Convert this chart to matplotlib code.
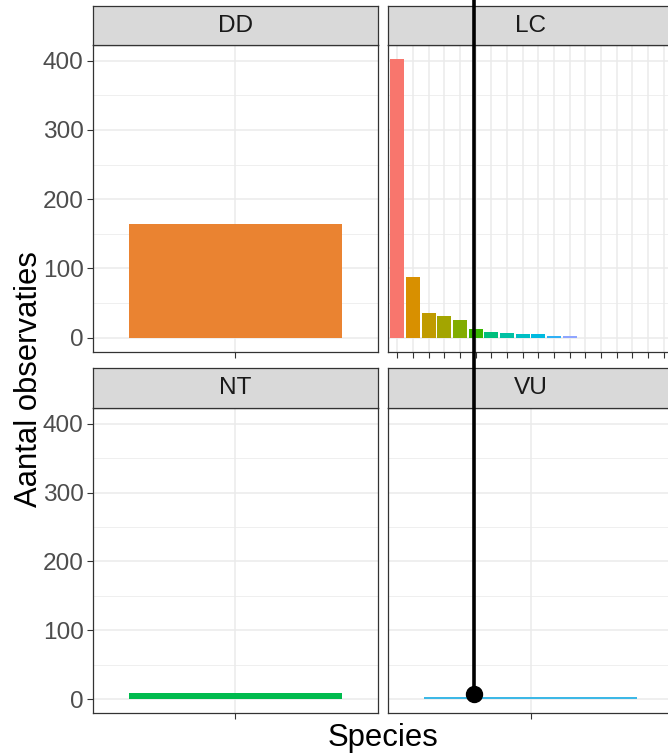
import matplotlib
matplotlib.use("Agg")
import matplotlib.pyplot as plt
from matplotlib.lines import Line2D
from matplotlib.ticker import MultipleLocator

plt.rcParams["font.family"] = ["Liberation Sans", "DejaVu Sans"]

# Observations per species, split by Red List status
status_labels = ["DD", "LC", "NT", "VU"]
dd_counts = [164]
lc_counts = [402, 87, 36, 32, 25, 13, 9, 7, 5, 5, 3, 3, 0, 0, 0, 0, 0, 0]
nt_counts = [10]
vu_counts = [3]

dd_colors = ["#EA8331"]
lc_colors = ["#F8766D", "#D89000", "#C09B00", "#A3A500", "#82AD00", "#39B600",
             "#00BF7D", "#00C1A3", "#00BFC4", "#00BAE0", "#2FB0F5", "#8FA5FF",
             "#C77CFF", "#E76BF3", "#FA62DB", "#FF62BC", "#FF6C91", "#F8766D"]
nt_colors = ["#00BB4E"]
vu_colors = ["#3DB8E6"]

y_title = "Aantal observaties"
x_title = "Species"

W, H = 668, 756
fig = plt.figure(figsize=(W / 100, H / 100), dpi=100)


def px_rect(x0, y0, x1, y1):
    return [x0 / W, 1 - y1 / H, (x1 - x0) / W, (y1 - y0) / H]


ymax = max(dd_counts + lc_counts + nt_counts + vu_counts)
ylim = (-0.05 * ymax, 1.05 * ymax)

border = "#333333"
grid = "#EBEBEB"
small_size = 17.6
title_size = 22.3


def draw_panel(rect, strip_rect, label, counts, colors, show_y):
    ax = fig.add_axes(rect)
    n = len(counts)
    xs = list(range(1, n + 1))
    ax.bar(xs, counts, width=0.9, color=colors, zorder=3)
    ax.set_xlim(0.4, n + 0.6)
    ax.set_ylim(*ylim)
    ax.yaxis.set_major_locator(MultipleLocator(100))
    ax.yaxis.set_minor_locator(MultipleLocator(50))
    ax.set_xticks(xs)
    ax.set_xticklabels([])
    ax.grid(True, which="major", color=grid, lw=1.1, zorder=0)
    ax.grid(True, which="minor", axis="y", color=grid, lw=0.55, zorder=0)
    ax.set_axisbelow(True)
    ax.tick_params(axis="x", which="major", length=4, width=0.8, color=border)
    ax.tick_params(axis="y", which="minor", length=0)
    if show_y:
        ax.tick_params(axis="y", which="major", length=4, width=0.8, color=border,
                       labelsize=small_size, labelcolor="#4D4D4D", pad=3)
    else:
        ax.tick_params(axis="y", which="major", length=0, labelleft=False)
    for s in ax.spines.values():
        s.set_color(border)
        s.set_linewidth(0.9)

    sax = fig.add_axes(strip_rect)
    sax.set_facecolor("#D9D9D9")
    sax.set_xticks([])
    sax.set_yticks([])
    for s in sax.spines.values():
        s.set_color(border)
        s.set_linewidth(0.9)
    sax.text(0.5, 0.5, label, transform=sax.transAxes, ha="center", va="center",
             fontsize=small_size, color="#1A1A1A")
    return ax


left = (93.3, 377.7)
right = (388, 673)
top_strip = (5.7, 45.3)
top_panel = (45.3, 351.7)
bot_strip = (367.7, 408.3)
bot_panel = (408.3, 713.3)

draw_panel(px_rect(left[0], top_panel[0], left[1], top_panel[1]),
           px_rect(left[0], top_strip[0], left[1], top_strip[1]),
           status_labels[0], dd_counts, dd_colors, True)
draw_panel(px_rect(right[0], top_panel[0], right[1], top_panel[1]),
           px_rect(right[0], top_strip[0], right[1], top_strip[1]),
           status_labels[1], lc_counts, lc_colors, False)
draw_panel(px_rect(left[0], bot_panel[0], left[1], bot_panel[1]),
           px_rect(left[0], bot_strip[0], left[1], bot_strip[1]),
           status_labels[2], nt_counts, nt_colors, True)
draw_panel(px_rect(right[0], bot_panel[0], right[1], bot_panel[1]),
           px_rect(right[0], bot_strip[0], right[1], bot_strip[1]),
           status_labels[3], vu_counts, vu_colors, False)

# Axis titles, centred over the panel area
fig.text((left[0] + right[1]) / 2 / W, 1 - 738 / H, x_title, ha="center",
         va="center", fontsize=title_size, color="black")
fig.text(29 / W, 1 - ((top_panel[0] + bot_panel[1]) / 2) / H, y_title,
         ha="center", va="center", rotation=90, fontsize=title_size, color="black")

# Pointer line with end dot
px, py = 474 / W, 1 - 694 / H
fig.add_artist(Line2D([px, px], [1.0, py], transform=fig.transFigure,
                      color="black", lw=2.6, solid_capstyle="butt", zorder=10))
fig.add_artist(Line2D([px], [py], transform=fig.transFigure, marker="o",
                      markersize=11.5, color="black", zorder=11))

fig.savefig("out.png", dpi=100)
